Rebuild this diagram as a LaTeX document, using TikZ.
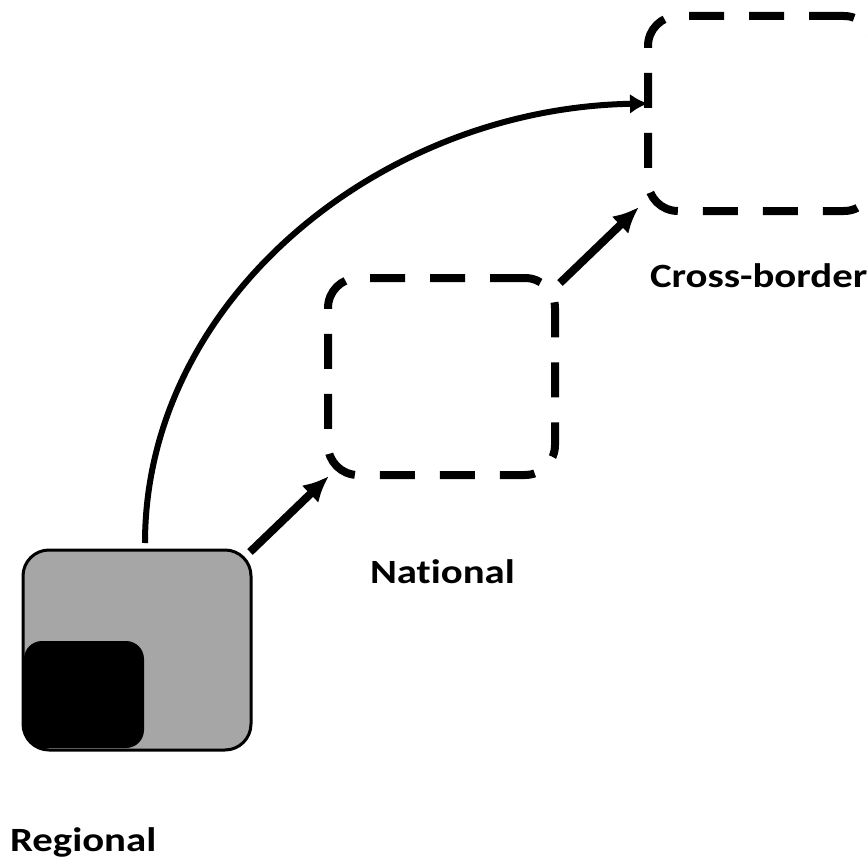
\documentclass[tikz,border=0pt]{standalone}
\usepackage{fontspec}
\setmainfont{Carlito}[Ligatures=NoCommon]
\usetikzlibrary{arrows.meta}
\tikzset{
  boxbase/.style={rectangle, inner sep=0pt, outer sep=0pt},
  dashbox/.style={boxbase, draw=black, line width=8pt, rounded corners=30pt, dash pattern=on 35pt off 25pt},
  regbox/.style={boxbase, draw=black, line width=3pt, fill={rgb,255:red,166;green,166;blue,166}, rounded corners=26pt},
  arr/.style={-{Latex[length=26pt,width=24pt]}, line width=8pt},
  curvearr/.style={-{Latex[length=18pt,width=20pt]}, line width=6pt},
  lbl/.style={anchor=base west, inner sep=0pt, outer sep=0pt, font=\bfseries\fontsize{34}{40}\selectfont}
}
\begin{document}
\begin{tikzpicture}[x=1pt,y=-1pt]
\useasboundingbox (0,0) rectangle (868,859);
\fill[white] (0,0) rectangle (868,859);
\begin{scope}
\clip (0,0) rectangle (868,859);
% boxes
\node[regbox, minimum width=228pt, minimum height=200pt] (regional) at (137,650) {};
\fill[black, rounded corners=18pt] (24,641) rectangle (144,748);
\node[dashbox, minimum width=227pt, minimum height=197pt] (national) at (441.5,376.5) {};
\node[dashbox, minimum width=226pt, minimum height=195pt] (cross) at (761,113.5) {};
% connectors
\draw[arr] ([shift={(-1,2)}]regional.north east) -- ([shift={(1,1)}]national.south west);
\draw[arr] ([shift={(5,5)}]national.north east) -- ([shift={(-9,-4)}]cross.south west);
\draw[curvearr] ([shift={(8,-7)}]regional.north) .. controls (145,300) and (380,108) .. ([shift={(0,-10)}]cross.west);
\end{scope}
% labels
\node[lbl] (crosslbl) at (650,287) {\scalebox{1.2}[1]{Cross-border}};
\node[lbl] (natlbl) at (370,583) {\scalebox{1.2}[1]{National}};
\node[lbl] (reglbl) at (10,851) {\scalebox{1.2}[1]{Regional}};
\end{tikzpicture}
\end{document}
